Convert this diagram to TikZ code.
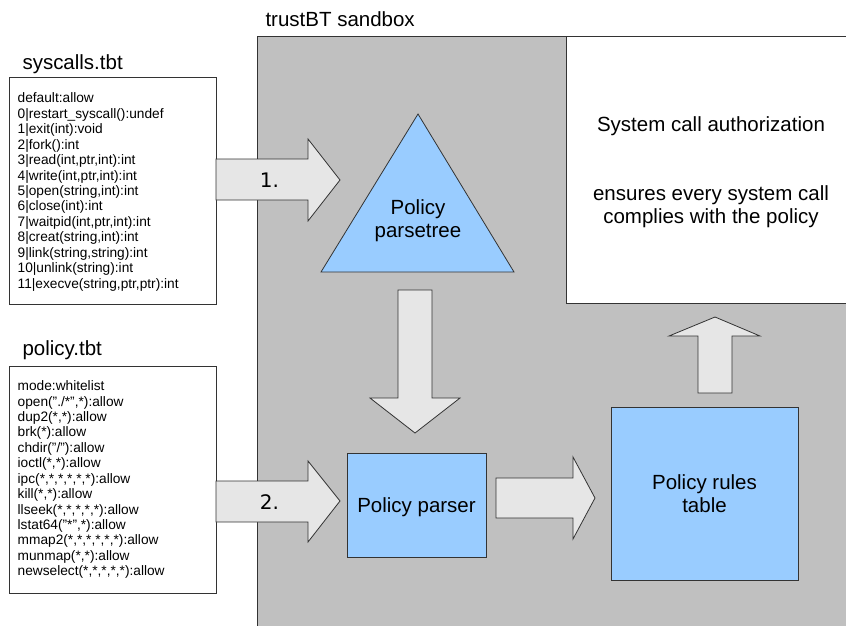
\documentclass[tikz,border=0pt]{standalone}
\usepackage{fontspec}
\setmainfont{Liberation Sans}
\newfontfamily\stepfont{DejaVu Sans}
\definecolor{sandgray}{HTML}{C0C0C0}
\definecolor{arrowgray}{HTML}{E6E6E6}
\definecolor{skyblue}{HTML}{99CCFF}
\definecolor{edgecol}{HTML}{333333}

\begin{document}
\begin{tikzpicture}[x=1pt,y=-1pt,
  big/.style={font=\fontsize{20.5}{23}\selectfont, inner sep=0pt, outer sep=0pt},
  steplabel/.style={font=\stepfont\fontsize{20}{23}\selectfont, inner sep=0pt, anchor=base},
  code/.style={font=\fontsize{13.7}{15.4}\selectfont, inner sep=0pt, anchor=base west},
  filebox/.style={draw=edgecol, line width=0.8pt, fill=white, inner sep=0pt, outer sep=0pt, anchor=north west},
  bluebox/.style={draw=edgecol, line width=0.8pt, fill=skyblue, inner sep=0pt, outer sep=0pt, anchor=north west},
  blockarrow/.style={draw=edgecol, line width=0.8pt, fill=arrowgray, line join=miter},
]
\useasboundingbox (0,0) rectangle (846,625);

% sandbox area
\path[fill=sandgray] (257,36) rectangle (860,640);
\draw[edgecol, line width=0.8pt] (257,640) -- (257,36) -- (860,36);
\node[big, anchor=base west] (sandboxtitle) at (265.5,26.5) {trustBT sandbox};

% system call authorization panel
\path[fill=white, draw=edgecol, line width=0.8pt] (860,303) -- (566,303) -- (566,36) -- (860,36);
\node[big, anchor=base] (authtitle) at (711,131) {System call authorization};
% multi-line nodes: the base anchor sits on the last line
\node[big, anchor=base, align=center] (authtext) at (711,223.5)
  {ensures every system call\\complies with the policy};

% syscalls.tbt
\node[big, anchor=base west] (syscallstitle) at (22.5,69) {syscalls.tbt};
\node[filebox, minimum width=207, minimum height=227] (syscalls) at (9,77) {};
\foreach \t [count=\i from 0] in {{default:allow},{0|restart\_syscall():undef},
  {1|exit(int):void},{2|fork():int},{3|read(int,ptr,int):int},
  {4|write(int,ptr,int):int},{5|open(string,int):int},{6|close(int):int},
  {7|waitpid(int,ptr,int):int},{8|creat(string,int):int},
  {9|link(string,string):int},{10|unlink(string):int},
  {11|execve(string,ptr,ptr):int}}
  \node[code] (sc\i) at (17.5,{102.7+15.47*\i}) {\t};

% policy.tbt
\node[big, anchor=base west] (policytitle) at (22.5,355.5) {policy.tbt};
\node[filebox, minimum width=207, minimum height=227] (policy) at (9,366) {};
\foreach \t [count=\i from 0] in {{mode:whitelist},{open("./*",*):allow},
  {dup2(*,*):allow},{brk(*):allow},{chdir("/"):allow},{ioctl(*,*):allow},
  {ipc(*,*,*,*,*,*):allow},{kill(*,*):allow},{llseek(*,*,*,*,*):allow},
  {lstat64("*",*):allow},{mmap2(*,*,*,*,*,*):allow},{munmap(*,*):allow},
  {newselect(*,*,*,*,*):allow}}
  \node[code] (pl\i) at (17.5,{390.7+15.42*\i}) {\t};

% policy parsetree
\path[draw=edgecol, line width=0.8pt, fill=skyblue, line join=miter]
  (418,114) -- (514,272) -- (321,272) -- cycle;
\node[big, anchor=base, align=center] (tree) at (418,237.7) {Policy\\parsetree};

% policy parser and rules table
\node[bluebox, minimum width=139, minimum height=104] (parser) at (347,453) {};
\node[big, anchor=base] (parserlabel) at (416.5,512.3) {Policy parser};
\node[bluebox, minimum width=187, minimum height=173] (rules) at (611,407) {};
\node[big, anchor=base, align=center] (ruleslabel) at (704.5,512.3) {Policy rules\\table};

% block arrows
\draw[blockarrow] (216,159) -- (308,159) -- (308,139) -- (340,180)
  -- (308,221) -- (308,200) -- (216,200) -- cycle;
\node[steplabel] (step1) at (269.5,187.3) {1.};
\draw[blockarrow] (216,481) -- (308,481) -- (308,461) -- (340,501)
  -- (308,542) -- (308,522) -- (216,522) -- cycle;
\node[steplabel] (step2) at (269.5,509) {2.};
\draw[blockarrow] (398,290) -- (432,290) -- (432,398) -- (460,398)
  -- (415,433) -- (370,398) -- (398,398) -- cycle;
\draw[blockarrow] (496,478) -- (573,478) -- (573,457) -- (595,498)
  -- (573,539) -- (573,518) -- (496,518) -- cycle;
\draw[blockarrow] (698,393) -- (698,336) -- (669,336) -- (715,317)
  -- (760,336) -- (732,336) -- (732,393) -- cycle;
\end{tikzpicture}
\end{document}
